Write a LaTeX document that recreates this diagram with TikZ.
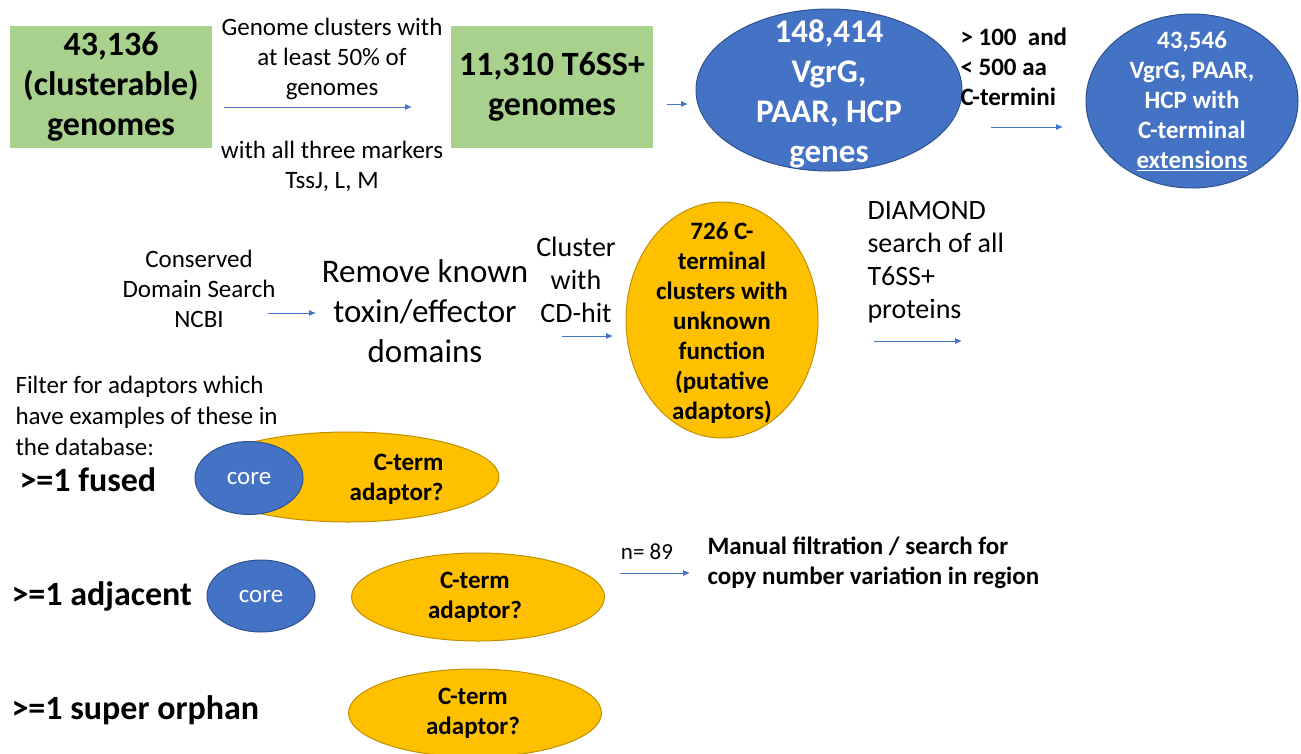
\documentclass[tikz,border=0pt]{standalone}
\usepackage{fontspec}
\setmainfont{Carlito}
\usetikzlibrary{arrows.meta,shapes.geometric}

\definecolor{boxgreen}{HTML}{A9D18E}
\definecolor{coreblue}{HTML}{4472C4}
\definecolor{coreedge}{HTML}{2F528F}
\definecolor{adaptyellow}{HTML}{FFC000}
\definecolor{adaptedge}{HTML}{BF9000}

\tikzset{
  greenbox/.style={fill=boxgreen,minimum width=202pt,minimum height=122pt,
    align=center,font=\fontsize{34}{40}\selectfont\bfseries},
  blueblob/.style={ellipse,draw=coreedge,line width=1pt,fill=coreblue,inner sep=0pt},
  yellowblob/.style={ellipse,draw=adaptedge,line width=1pt,fill=adaptyellow,inner sep=0pt},
  note/.style={align=center,font=\fontsize{25}{30}\selectfont},
  boldnote/.style={align=center,font=\fontsize{25}{30}\selectfont\bfseries},
  bignote/.style={align=center,font=\fontsize{34}{40}\selectfont\bfseries},
  flow/.style={draw=coreblue,line width=0.9pt,-{Latex[length=7pt,width=6pt]}}
}

\begin{document}
\begin{tikzpicture}[x=1pt,y=-1pt]
  \useasboundingbox (0,0) rectangle (1301,753);

  % top row
  \node[greenbox] (clusterable) at (111,87) {43,136\\(clusterable)\\genomes};
  \node[note] (clustertext) at (332,59) {Genome clusters with\\at least 50\% of\\genomes};
  \node[note] (markertext) at (332,166) {with all three markers\\TssJ, L, M};
  \node[greenbox] (positive) at (552,87) {11,310 T6SS+\\genomes};
  \node[blueblob,minimum width=266pt,minimum height=162pt] (genes) at (829,90) {};
  \node[bignote,text=white,font=\fontsize{33}{40}\selectfont\bfseries] (genestext) at (829,94)
    {148,414\\VgrG,\\PAAR, HCP\\genes};
  \node[boldnote,anchor=west,align=left] (lengthtext) at (957,67)
    {> 100~~and\\< 500 aa\\C-termini};
  \node[blueblob,minimum width=212pt,minimum height=174pt] (extended) at (1192,101) {};
  \node[boldnote,text=white] (extendedtext) at (1192,101)
    {43,546\\VgrG, PAAR,\\HCP with\\C-terminal\\\underline{extensions}};

  \coordinate (a1s) at (224,107);
  \coordinate (a1e) at (412,107);
  \coordinate (a2s) at (667,104);
  \coordinate (a2e) at (688,104);
  \coordinate (a3s) at (991,127);
  \coordinate (a3e) at (1063,127);
  \draw[flow] (a1s) -- (a1e);
  \draw[flow] (a2s) -- (a2e);
  \draw[flow] (a3s) -- (a3e);

  % middle row
  \node[note] (cdsearch) at (199,289) {Conserved\\Domain Search\\NCBI};
  \node[note,font=\fontsize{33}{40}\selectfont] (remove) at (425,311)
    {Remove known\\toxin/effector\\domains};
  \node[note,font=\fontsize{28}{33}\selectfont] (cdhit) at (576,280)
    {Cluster\\with\\CD-hit};
  \node[yellowblob,minimum width=192pt,minimum height=236pt] (unknown) at (722,320) {};
  \node[boldnote] (unknowntext) at (722,323)
    {726 C-\\terminal\\clusters with\\unknown\\function\\(putative\\adaptors)};
  \node[note,anchor=west,align=left,font=\fontsize{28}{33}\selectfont]
    (diamond) at (864,262) {DIAMOND\\search of all\\T6SS+\\proteins};

  \coordinate (a4s) at (268,313);
  \coordinate (a4e) at (316,313);
  \coordinate (a5s) at (562,336);
  \coordinate (a5e) at (613,336);
  \coordinate (a6s) at (874,341);
  \coordinate (a6e) at (962,341);
  \draw[flow] (a4s) -- (a4e);
  \draw[flow] (a5s) -- (a5e);
  \draw[flow] (a6s) -- (a6e);

  % filter rows
  \node[note,anchor=west,align=left,font=\fontsize{25}{31}\selectfont] (filter) at (12,416)
    {Filter for adaptors which\\have examples of these in\\the database:};
  \node[bignote,anchor=west] (fused) at (16,480) {>=1 fused};
  \node[bignote,anchor=west] (adjacent) at (8,596) {>=1 adjacent};
  \node[bignote,anchor=west] (orphan) at (8,710) {>=1 super orphan};

  \node[yellowblob,minimum width=302pt,minimum height=90pt] (fusedterm) at (348,477) {};
  \node[boldnote,align=right,anchor=east] (fusedtext) at (447,479) {C-term\\adaptor?};
  \node[blueblob,minimum width=108pt,minimum height=73pt] (fusedcore) at (249,478) {};
  \node[note,text=white] (fusedcoretext) at (249,479) {core};

  \node[blueblob,minimum width=108pt,minimum height=72pt] (adjcore) at (261,596) {};
  \node[note,text=white] (adjcoretext) at (261,597) {core};
  \node[yellowblob,minimum width=253pt,minimum height=88pt] (adjterm) at (478,597) {};
  \node[boldnote] (adjtext) at (475,597) {C-term\\adaptor?};
  \node[yellowblob,minimum width=253pt,minimum height=88pt] (orphterm) at (475,713) {};
  \node[boldnote] (orphtext) at (473,713) {C-term\\adaptor?};

  \node[note,font=\fontsize{23}{26}\selectfont] (count) at (647,552) {n= 89};
  \node[boldnote,anchor=west,align=left] (manual) at (704,563)
    {Manual filtration / search for\\copy number variation in region};
  \coordinate (a7s) at (620,573);
  \coordinate (a7e) at (690,573);
  \draw[flow] (a7s) -- (a7e);
\end{tikzpicture}
\end{document}
